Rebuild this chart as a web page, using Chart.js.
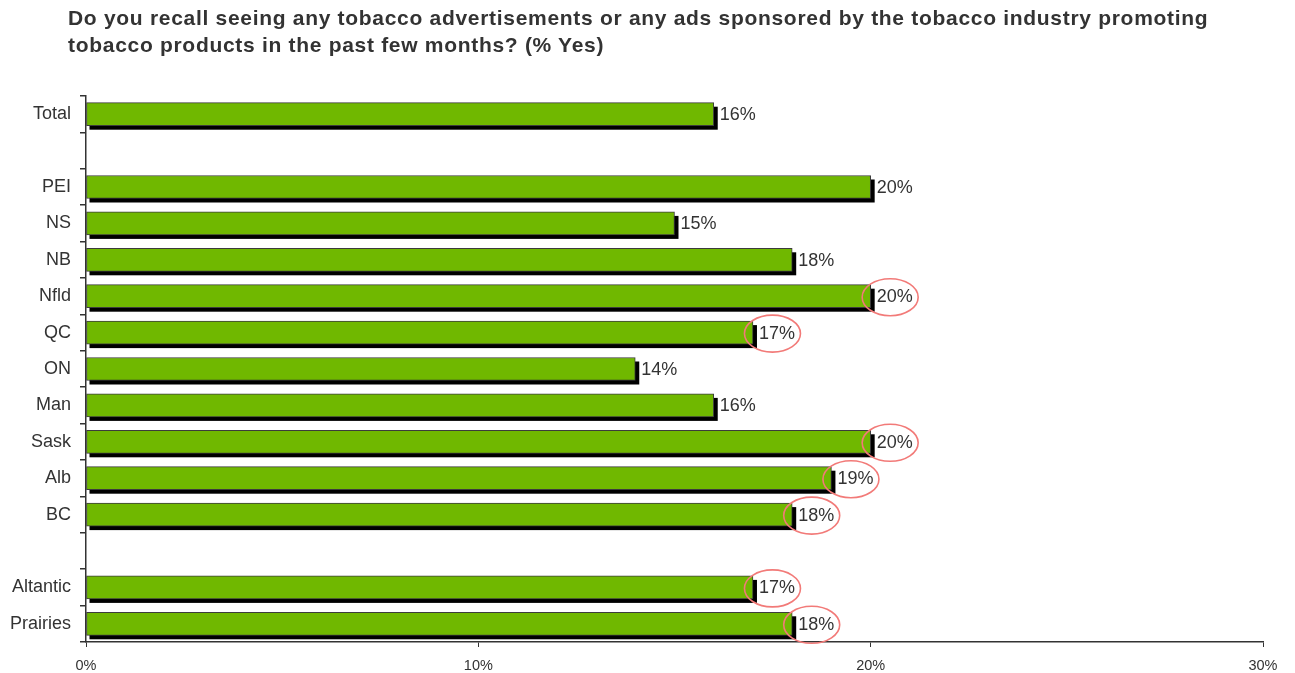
<!DOCTYPE html>
<html>
<head>
<meta charset="utf-8">
<script src="https://cdn.jsdelivr.net/npm/chart.js@4"></script>
<style>
  html, body { margin: 0; padding: 0; background: #fff; }
  #wrap { position: relative; width: 1295px; height: 673px; }
  #title { position: absolute; left: 68px; top: 4px; font-family: "Liberation Sans", Arial, sans-serif; font-weight: bold; font-size: 21px; letter-spacing: 0.7px; line-height: 27px; color: #333; white-space: nowrap; }
  canvas { position: absolute; left: 0; top: 0; }
</style>
</head>
<body>
<div id="wrap">
  <canvas id="c" width="1295" height="673"></canvas>
  <div id="title">Do you recall seeing any tobacco advertisements or any ads sponsored by the tobacco industry promoting<br>tobacco products in the past few months? (% Yes)</div>
</div>
<script>
const categories = ['Total', '', 'PEI', 'NS', 'NB', 'Nfld', 'QC', 'ON', 'Man', 'Sask', 'Alb', 'BC', '', 'Altantic', 'Prairies'];
const values = [16, null, 20, 15, 18, 20, 17, 14, 16, 20, 19, 18, null, 17, 18];
const circled = [false, false, false, false, false, true, true, false, false, true, true, true, false, true, true];
const xTicks = [0, 10, 20, 30];

const shadowPlugin = {
  id: 'shadowPlugin',
  beforeDatasetsDraw(chart) {
    const ctx = chart.ctx;
    const meta = chart.getDatasetMeta(0);
    ctx.save();
    ctx.fillStyle = '#000';
    meta.data.forEach((bar, i) => {
      if (values[i] == null) return;
      const p = bar.getProps(['x', 'y', 'base', 'height'], true);
      const top = p.y - p.height / 2 + 4;
      ctx.fillRect(p.base + 3, top, p.x - p.base + 1, p.height);
    });
    ctx.restore();
  },
  afterDatasetsDraw(chart) {
    const ctx = chart.ctx;
    const meta = chart.getDatasetMeta(0);
    ctx.save();
    ctx.font = '18px "Liberation Sans", Arial, sans-serif';
    ctx.fillStyle = '#333';
    ctx.textBaseline = 'middle';
    ctx.textAlign = 'left';
    meta.data.forEach((bar, i) => {
      if (values[i] == null) return;
      const p = bar.getProps(['x', 'y'], true);
      ctx.fillText(values[i] + '%', p.x + 6, p.y + 1);
      if (circled[i]) {
        ctx.beginPath();
        ctx.strokeStyle = '#f27a78';
        ctx.lineWidth = 1.6;
        ctx.ellipse(p.x + 19.5, p.y + 1, 28, 18.5, 0, 0, Math.PI * 2);
        ctx.stroke();
      }
    });
    ctx.restore();
  }
};

new Chart(document.getElementById('c'), {
  type: 'bar',
  data: {
    labels: categories,
    datasets: [{
      data: values,
      backgroundColor: '#70b800',
      borderColor: '#3c3c3c',
      borderWidth: 1,
      borderSkipped: false,
      barThickness: 23
    }]
  },
  options: {
    indexAxis: 'y',
    responsive: false,
    animation: false,
    layout: { padding: { left: 0, right: 32, top: 96, bottom: 0 } },
    plugins: { legend: { display: false }, title: { display: false }, tooltip: { enabled: false } },
    scales: {
      x: {
        min: 0, max: 30,
        afterBuildTicks(s) { s.ticks = xTicks.map(v => ({ value: v })); },
        afterFit(s) { s.height = 31; },
        ticks: {
          callback: v => v + '%',
          font: { family: '"Liberation Sans", Arial, sans-serif', size: 14.5 },
          color: '#333', padding: 10, maxRotation: 0
        },
        grid: { drawOnChartArea: false, tickLength: 5, color: '#333', lineWidth: 1 },
        border: { display: true, color: '#333', width: 1.5 }
      },
      y: {
        afterFit(s) { s.width = 86; },
        ticks: {
          font: { family: '"Liberation Sans", Arial, sans-serif', size: 18 },
          color: '#333', padding: 9, autoSkip: false
        },
        grid: { offset: true, drawOnChartArea: false, tickLength: 6, color: '#333', lineWidth: 1.5 },
        border: { display: true, color: '#333', width: 1.5 }
      }
    }
  },
  plugins: [shadowPlugin]
});
</script>
</body>
</html>
